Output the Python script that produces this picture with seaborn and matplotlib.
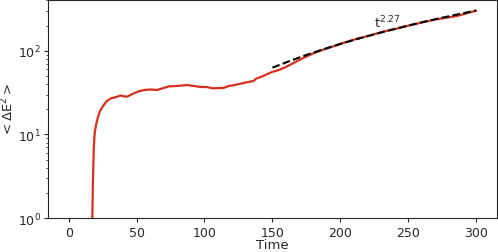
import numpy as np
import pandas as pd
import matplotlib
matplotlib.use("Agg")
import matplotlib.pyplot as plt
import seaborn as sns

# Measured curve <dE^2>(t)
time = [16.5, 17.3, 17.8, 18.5, 19.2, 20.0, 21.0, 23.0, 25.0, 28.0, 31.0, 35.0,
        38.0, 41.0, 43.0, 47.0, 52.0, 56.0, 60.0, 65.0, 70.0, 74.0, 80.0, 87.0,
        92.0, 97.0, 102.0, 106.0, 110.0, 114.0, 118.0, 122.0, 128.0, 134.0,
        136.0, 138.0, 142.0, 146.0, 150.0, 154.0, 158.0, 163.0, 168.0, 172.0,
        176.0, 182.0, 188.0, 194.0, 200.0, 206.0, 212.0, 218.0, 225.0, 232.0,
        240.0, 250.0, 260.0, 270.0, 280.0, 285.0, 290.0, 300.0]
de2 = [0.5, 0.8, 2.5, 7.0, 10.6, 12.5, 15.0, 19.0, 21.5, 25.0, 27.0, 28.0,
       29.2, 28.5, 28.3, 30.5, 33.0, 34.0, 34.5, 34.0, 36.0, 37.6, 38.0, 39.0,
       38.0, 37.0, 36.8, 35.6, 35.8, 36.0, 38.0, 39.0, 41.0, 43.0,
       43.5, 46.5, 49.0, 52.5, 56.0, 58.5, 62.0, 68.0, 75.0, 81.0,
       87.0, 96.0, 104.0, 112.0, 121.0, 130.0, 139.0, 147.0, 158.0, 170.0,
       182.0, 200.0, 218.0, 237.0, 252.0, 259.0, 272.0, 302.0]

# Power-law fit t^2.27
fit_t = [150, 162.5, 175, 187.5, 200, 212.5, 225, 237.5, 250, 262.5, 275, 287.5, 300]
fit_y = [62.8, 75.3, 89.2, 104.3, 120.7, 138.4, 157.7, 178.3, 200.3, 223.8, 248.7, 275.1, 303.0]
fit_label = r"t$^{2.27}$"

sns.set_style("ticks")
plt.rcParams["font.family"] = ["DejaVu Sans"]

fig, ax = plt.subplots(figsize=(4.98, 2.53), dpi=100)
fig.subplots_adjust(left=0.097, right=0.997, bottom=0.134, top=0.996)

df = pd.DataFrame({"Time": time, "dE2": de2})
fit = pd.DataFrame({"Time": fit_t, "fit": fit_y})

sns.lineplot(data=df, x="Time", y="dE2", ax=ax, color="#d7301f", lw=1.6)
sns.lineplot(data=fit, x="Time", y="fit", ax=ax, color="black", lw=1.5,
             linestyle="--")

ax.set_yscale("log")
ax.set_xlim(-15, 315)
ax.set_ylim(1, 405)
ax.set_xticks([0, 50, 100, 150, 200, 250, 300])
ax.tick_params(which="major", labelsize=9, length=3, pad=2.5)
ax.tick_params(which="minor", length=1.8)
ax.set_xlabel("Time", fontsize=9.5)
ax.set_ylabel(r"$< \Delta \mathrm{E}^2 >$", fontsize=9.5)
ax.xaxis.set_label_coords(0.5, -0.09)
ax.yaxis.set_label_coords(-0.072, 0.5)
ax.text(225, 193, fit_label, fontsize=9.5, ha="left", va="baseline")

fig.savefig("out.png", dpi=100)
